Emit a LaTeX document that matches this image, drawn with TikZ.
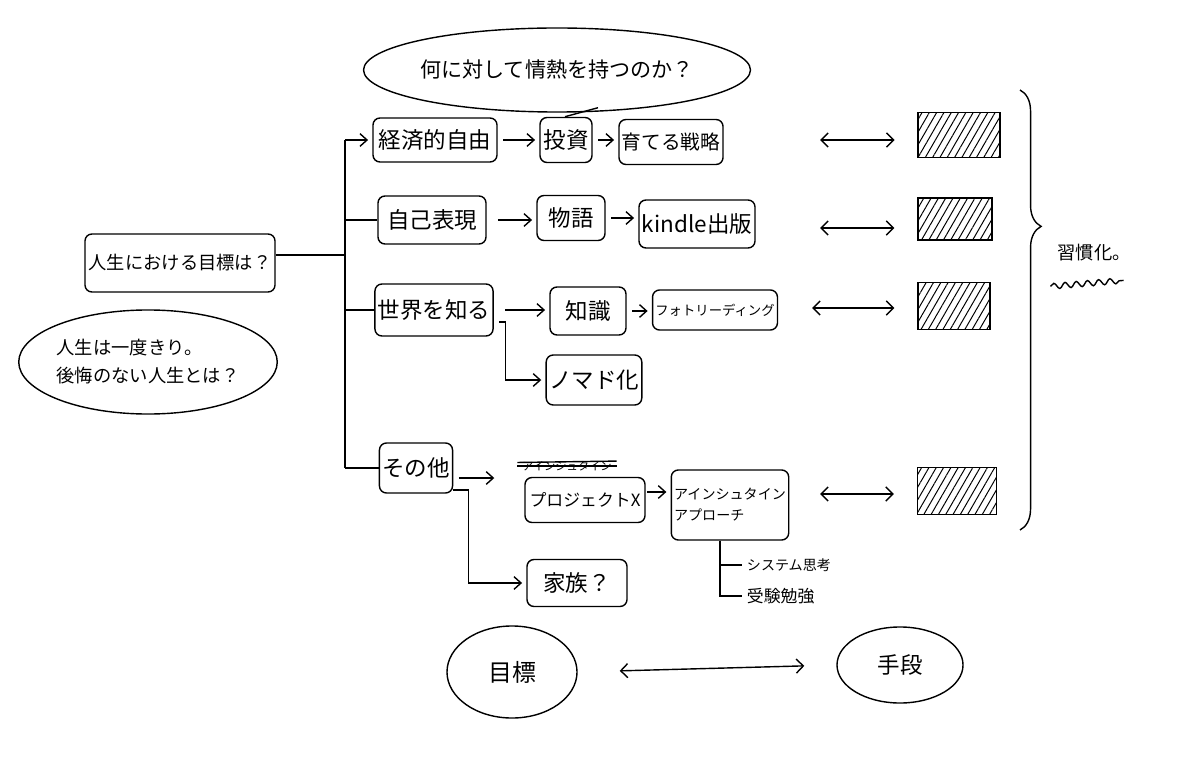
\documentclass[tikz,border=0pt]{standalone}
\usepackage{fontspec}
\setmainfont{Noto Sans CJK JP}
\usepackage{tikz}
\usetikzlibrary{arrows.meta,shapes.geometric,decorations.pathreplacing,decorations.pathmorphing,patterns.meta}

\begin{document}
\begin{tikzpicture}[x=0.025cm,y=-0.025cm]
            \tikzset{
                box/.style={draw, rounded corners=5pt, line width=1pt, inner sep=2pt, font=\fontsize{16}{19}\selectfont},
                bubble/.style={ellipse, draw, line width=1pt, inner sep=0pt},
                hatch/.style={draw, line width=1pt, pattern={Lines[angle=60,distance=4.5pt,line width=0.7pt]}},
                edge/.style={-{Straight Barb[length=5pt,width=9pt]}, line width=1pt, shorten <=4pt, shorten >=3pt},
                both/.style={{Straight Barb[length=5pt,width=10pt]}-{Straight Barb[length=5pt,width=10pt]}, line width=1pt},
                line/.style={line width=1pt}
            }
            \fill[white] (0,0) rectangle (1200,773);
            \useasboundingbox (0,0) rectangle (1200,773);

            % bubbles
            \node[bubble, minimum width=8.25cm, minimum height=2.1cm, font=\fontsize{15}{18}\selectfont] (passion) at (557,70) {何に対して情熱を持つのか？};
            \node[bubble, minimum width=5.7cm, minimum height=2.6cm, font=\fontsize{13}{20}\selectfont, align=left] (once) at (148,362) {人生は一度きり。\\後悔のない人生とは？};
            \node[bubble, minimum width=3.25cm, minimum height=2.3cm, font=\fontsize{17}{20}\selectfont] (goal) at (512,672) {目標};
            \node[bubble, minimum width=3.15cm, minimum height=1.9cm, font=\fontsize{16}{19}\selectfont] (means) at (900,665) {手段};

            % goal and branches
            \node[box, minimum width=4.75cm, minimum height=1.45cm, font=\fontsize{13}{16}\selectfont] (main) at (180,263) {人生における目標は？};
            \node[box, minimum width=3.1cm, minimum height=1.1cm] (econ) at (435,140) {経済的自由};
            \node[box, minimum width=2.7cm, minimum height=1.2cm] (expr) at (432,220) {自己表現};
            \node[box, minimum width=2.8cm, minimum height=1.3cm] (world) at (434,310) {世界を知る};
            \node[box, minimum width=1.7cm, minimum height=1.25cm] (other) at (416,468) {その他};

            % second column
            \node[box, minimum width=1.3cm, minimum height=1.125cm] (invest) at (566,140) {投資};
            \node[box, minimum width=1.7cm, minimum height=1.125cm] (story) at (571,218) {物語};
            \node[box, minimum width=1.9cm, minimum height=1.2cm] (know) at (588,311) {知識};
            \node[box, minimum width=2.3cm, minimum height=1.25cm] (nomad) at (594,380) {ノマド化};
            \node[box, minimum width=3cm, minimum height=1.125cm, font=\fontsize{12}{15}\selectfont] (projx) at (585,500) {プロジェクトX};
            \node[box, minimum width=2.5cm, minimum height=1.175cm] (family) at (577,583) {家族？};
            \node[font=\fontsize{8}{10}\selectfont] (oldx) at (567,466) {アインシュタイン};

            % third column
            \node[box, minimum width=2.55cm, minimum height=1.125cm, font=\fontsize{14}{17}\selectfont] (strat) at (671,142) {育てる戦略};
            \node[box, minimum width=2.9cm, minimum height=1.2cm] (kindle) at (697,224) {kindle出版};
            \node[box, minimum width=3cm, minimum height=1cm, font=\fontsize{9.5}{12}\selectfont] (photo) at (715,310) {フォトリーディング};
            \node[box, minimum width=2.75cm, minimum height=1.75cm, font=\fontsize{10}{15}\selectfont, align=left] (einst) at (730,505) {アインシュタイン\\アプローチ};
            \node[font=\fontsize{10}{12}\selectfont, anchor=west] (sys) at (742,565) {システム思考};
            \node[font=\fontsize{12}{14}\selectfont, anchor=west] (exam) at (742,596) {受験勉強};

            % habits
            \node[hatch, minimum width=2.05cm, minimum height=1.125cm] (h1) at (959,135) {};
            \node[hatch, minimum width=1.85cm, minimum height=1.05cm] (h2) at (955,219) {};
            \node[hatch, minimum width=1.8cm, minimum height=1.175cm] (h3) at (954,306) {};
            \node[hatch, minimum width=1.975cm, minimum height=1.175cm] (h4) at (957,491) {};
            \node[font=\fontsize{13}{16}\selectfont] (habit) at (1094,253) {習慣化。};

            \coordinate (top) at (345,140);
            \coordinate (bot) at (345,468);
            \coordinate (d1) at (820,140);
            \coordinate (d2) at (820,228);
            \coordinate (d3) at (812,308);
            \coordinate (d4) at (820,494);

            %edges
            \draw[line] ([yshift=0.2cm]main.east) -- ([yshift=0.2cm]main.east -| top);
            \draw[line] (top) -- (bot);
            \draw[edge, shorten <=0pt] (top) -- (econ.west);
            \draw[line] (top |- expr.west) -- (expr.west);
            \draw[line] (top |- world.west) -- (world.west);
            \draw[line] (bot) -- (other.west);

            \draw[edge] (econ) -- (invest);
            \draw[edge] (invest) -- (strat.west |- invest);
            \draw[edge, shorten <=8pt] (expr) -- (story.west |- expr);
            \draw[edge] (story) -- (kindle.west |- story);
            \draw[edge, shorten <=8pt] (world) -- (know.west |- world);
            \draw[edge] (know) -- (photo.west |- know);
            \draw[edge] ([yshift=-0.3cm]world.east) -- ++(12,0) |- (nomad.west);
            \draw[edge, shorten >=0.75cm] ([yshift=-0.25cm]other.east) -- ([yshift=-0.25cm]other.east -| projx.west);
            \draw[edge, shorten <=0pt] ([yshift=-0.55cm]other.east) -- ++(15,0) |- (family.west);
            \draw[edge, shorten <=1pt] ([yshift=0.2cm]projx.east) -- ([yshift=0.2cm]projx.east -| einst.west);
            \draw[line] ([xshift=-0.25cm]einst.south) |- (sys.west);
            \draw[line] ([xshift=-0.25cm]einst.south) |- (exam.west);

            \draw[both, shorten >=0.575cm] (d1) -- (d1 -| h1.west);
            \draw[both, shorten >=0.575cm] (d2) -- (d2 -| h2.west);
            \draw[both, shorten >=0.575cm] (d3) -- (d3 -| h3.west);
            \draw[both, shorten >=0.575cm] (d4) -- (d4 -| h4.west);
            \draw[both, shorten <=1.05cm, shorten >=0.8cm] (goal.east) -- (means.west);

            % marks
            \draw[line] (oldx.west) -- (oldx.east);
            \draw[line] ([yshift=2.5pt]oldx.west) -- ([yshift=3.5pt]oldx.east);
            \draw[line] ([xshift=0.2cm,yshift=-0.1cm]passion.south) -- ++(33,-9);
            \draw[line, decorate, decoration={brace, amplitude=15pt, aspect=0.31}] (1020,90) -- (1020,530);
            \draw[line, decorate, decoration={snake, segment length=8pt, amplitude=2pt}] ([xshift=-0.05cm,yshift=-0.5cm]habit.south west) -- ([xshift=-0.3cm,yshift=-0.35cm]habit.south east);
\end{tikzpicture}
\end{document}
